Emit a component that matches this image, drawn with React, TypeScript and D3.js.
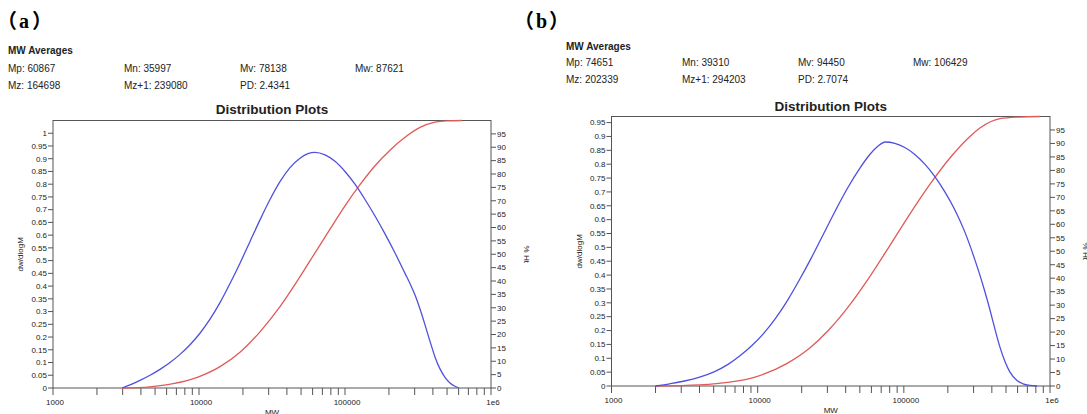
import React from "react";
import * as d3 from "d3";

// ---------- data ----------
const X_TICK_LABELS = ["1000", "10000", "100000", "1e6"];

const A_STATS_ROW1 = ["Mp: 60867", "Mn: 35997", "Mv: 78138", "Mw: 87621"];
const A_STATS_ROW2 = ["Mz: 164698", "Mz+1: 239080", "PD: 2.4341"];
const B_STATS_ROW1 = ["Mp: 74651", "Mn: 39310", "Mv: 94450", "Mw: 106429"];
const B_STATS_ROW2 = ["Mz: 202339", "Mz+1: 294203", "PD: 2.7074"];

const A_DIST_MW = [2970, 3369, 3944, 4617, 5407, 6331, 7413, 8679, 10158, 11893, 13925, 16305, 19092, 22358, 26170, 30643, 35872, 42007, 49180, 55800, 62315, 72946, 85420, 100000, 117060, 137090, 160530, 187930, 220070, 257630, 278800, 301700, 326400, 353200, 382200, 413400, 447400, 484000, 523800, 566700, 603700];
const A_DIST_DW = [0, 0.012, 0.03, 0.05, 0.073, 0.1, 0.132, 0.17, 0.215, 0.27, 0.335, 0.41, 0.49, 0.575, 0.66, 0.74, 0.81, 0.865, 0.902, 0.92, 0.925, 0.915, 0.89, 0.85, 0.8, 0.74, 0.675, 0.605, 0.53, 0.45, 0.41, 0.365, 0.31, 0.248, 0.183, 0.122, 0.075, 0.042, 0.02, 0.007, 0];
const A_CUM_MW = [2970, 4615, 6635, 9840, 13930, 19090, 26170, 35870, 49180, 62315, 78960, 100000, 126640, 160530, 203350, 257630, 326400, 413400, 499400, 633000];
const A_CUM_HT = [0, 0.45, 1.6, 4.1, 8.0, 13.4, 21, 30.4, 41.6, 50.5, 59.4, 68.1, 76, 83.1, 88.9, 93.7, 97.4, 99.35, 99.85, 100];

const B_DIST_MW = [2002, 2496, 3162, 4006, 5075, 6230, 7527, 9097, 10993, 13285, 16050, 19400, 23440, 28320, 34220, 41340, 49950, 58500, 66350, 74690, 86770, 101580, 118940, 139250, 163030, 190890, 223570, 261700, 306400, 331500, 358700, 388200, 420200, 454600, 491800, 532100, 594300, 653500, 729500, 814700];
const B_DIST_DW = [0, 0.008, 0.018, 0.032, 0.052, 0.077, 0.108, 0.145, 0.19, 0.245, 0.31, 0.385, 0.465, 0.55, 0.635, 0.715, 0.785, 0.835, 0.865, 0.88, 0.875, 0.86, 0.835, 0.8, 0.755, 0.7, 0.635, 0.555, 0.455, 0.4, 0.34, 0.275, 0.205, 0.14, 0.088, 0.05, 0.02, 0.008, 0.002, 0];
const B_CUM_MW = [2002, 4006, 6430, 9845, 15800, 22714, 30170, 42670, 58500, 80200, 109900, 150700, 206600, 283200, 331500, 454600, 618000, 855000];
const B_CUM_HT = [0, 0.4, 1.4, 3.5, 8.3, 14.1, 20.4, 30.1, 40.6, 52.1, 63.8, 74.8, 84.6, 92.6, 95.7, 99.2, 99.8, 100];

const A_LEFT_TICKS = d3.range(0, 21).map((i) => +(i * 0.05).toFixed(2));
const B_LEFT_TICKS = d3.range(0, 20).map((i) => +(i * 0.05).toFixed(2));
const RIGHT_TICKS = d3.range(0, 20).map((i) => i * 5);

const BLUE = "#5050e0";
const RED = "#e05a5a";
const AXIS = "#555";
const TEXT = "#222";
const SANS = "'Liberation Sans', Arial, sans-serif";

type PanelProps = {
  letter: string;
  labelX: number;
  ox: number;
  statsTop: number;
  rowGap: number;
  row1: string[];
  row2: string[];
  frame: { left: number; right: number; top: number; bottom: number };
  leftMax: number;
  leftTicks: number[];
  distMW: number[];
  distDW: number[];
  cumMW: number[];
  cumHT: number[];
  titleY: number;
};

function Panel(p: PanelProps) {
  const { frame } = p;
  const x = d3.scaleLog().domain([1000, 1e6]).range([frame.left, frame.right]);
  const yL = d3.scaleLinear().domain([0, p.leftMax]).range([frame.bottom, frame.top]);
  const yR = d3.scaleLinear().domain([0, 100]).range([frame.bottom, frame.top]);
  const distLine = d3
    .line<number>()
    .x((_, i) => x(p.distMW[i]))
    .y((d) => yL(d))
    .curve(d3.curveMonotoneX);
  const cumLine = d3
    .line<number>()
    .x((_, i) => x(p.cumMW[i]))
    .y((d) => yR(d))
    .curve(d3.curveMonotoneX);
  const xTicks = x.ticks(30).filter((t) => t >= 1000 && t <= 1e6);
  const majors = [1000, 10000, 100000, 1e6];
  const colX = [0, 116, 232, 347];
  const cx = (frame.left + frame.right) / 2;
  const cy = (frame.top + frame.bottom) / 2;
  const lx = p.labelX;
  return (
    <g>
      <text y={28} fontWeight="bold" fontSize={20} fill="#000">
        <tspan x={lx - 3} fontFamily="'Noto Sans CJK SC', sans-serif">（</tspan>
        <tspan x={lx + 19} fontFamily="'Liberation Serif', serif">{p.letter}</tspan>
        <tspan x={lx + 32} fontFamily="'Noto Sans CJK SC', sans-serif">）</tspan>
      </text>
      <text x={p.ox} y={p.statsTop} fontFamily={SANS} fontWeight="bold" fontSize={10} fill={TEXT}>
        MW Averages
      </text>
      {p.row1.map((s, i) => (
        <text key={"r1" + i} x={p.ox + colX[i]} y={p.statsTop + p.rowGap} fontFamily={SANS} fontSize={10} fill={TEXT}>
          {s}
        </text>
      ))}
      {p.row2.map((s, i) => (
        <text key={"r2" + i} x={p.ox + colX[i]} y={p.statsTop + 2 * p.rowGap} fontFamily={SANS} fontSize={10} fill={TEXT}>
          {s}
        </text>
      ))}
      <text x={cx} y={p.titleY} textAnchor="middle" fontFamily={SANS} fontWeight="bold" fontSize={13.5} fill={TEXT}>
        Distribution Plots
      </text>
      {/* frame */}
      <rect x={frame.left} y={frame.top} width={frame.right - frame.left} height={frame.bottom - frame.top} fill="none" stroke={AXIS} strokeWidth={1} />
      {/* left ticks */}
      {p.leftTicks.map((t) => (
        <g key={"l" + t}>
          <line x1={frame.left - 5} x2={frame.left} y1={yL(t)} y2={yL(t)} stroke={AXIS} />
          <text x={frame.left - 6} y={yL(t) + 2.8} textAnchor="end" fontFamily={SANS} fontSize={8} fill={TEXT}>
            {String(t)}
          </text>
        </g>
      ))}
      {/* right ticks */}
      {RIGHT_TICKS.map((t) => (
        <g key={"r" + t}>
          <line x1={frame.right} x2={frame.right + 5} y1={yR(t)} y2={yR(t)} stroke={AXIS} />
          <text x={frame.right + 6} y={yR(t) + 2.8} textAnchor="start" fontFamily={SANS} fontSize={8} fill={TEXT}>
            {String(t)}
          </text>
        </g>
      ))}
      {/* bottom ticks */}
      {xTicks.map((t) => (
        <line key={"b" + t} x1={x(t)} x2={x(t)} y1={frame.bottom} y2={frame.bottom + 7} stroke={AXIS} />
      ))}
      {majors.map((t, i) => (
        <text key={"bl" + t} x={x(t) + 2} y={frame.bottom + 17} textAnchor="middle" fontFamily={SANS} fontSize={8} fill={TEXT}>
          {X_TICK_LABELS[i]}
        </text>
      ))}
      <text x={cx} y={frame.bottom + 27} textAnchor="middle" fontFamily={SANS} fontSize={8} fill={TEXT}>
        MW
      </text>
      <text transform={`translate(${frame.left - 30},${cy}) rotate(-90)`} textAnchor="middle" fontFamily={SANS} fontSize={8} fill={TEXT}>
        dw/dlogM
      </text>
      <text transform={`translate(${frame.right + 33},${cy}) rotate(90)`} textAnchor="middle" fontFamily={SANS} fontSize={8} fill={TEXT}>
        % Ht
      </text>
      {/* curves */}
      <path d={cumLine(p.cumHT) || ""} fill="none" stroke={RED} strokeWidth={1.3} />
      <path d={distLine(p.distDW) || ""} fill="none" stroke={BLUE} strokeWidth={1.3} />
    </g>
  );
}

export default function App() {
  return (
    <svg width={1087} height={414} style={{ position: "absolute", left: 0, top: 0, background: "#fff" }}>
      <rect x={0} y={0} width={1087} height={414} fill="#fff" />
      <Panel
        letter="a"
        labelX={0}
        ox={8}
        statsTop={54}
        rowGap={17.5}
        row1={A_STATS_ROW1}
        row2={A_STATS_ROW2}
        frame={{ left: 53, right: 491, top: 120.5, bottom: 388 }}
        leftMax={1.05}
        leftTicks={A_LEFT_TICKS}
        distMW={A_DIST_MW}
        distDW={A_DIST_DW}
        cumMW={A_CUM_MW}
        cumHT={A_CUM_HT}
        titleY={114}
      />
      <Panel
        letter="b"
        labelX={517}
        ox={566}
        statsTop={49.5}
        rowGap={16.5}
        row1={B_STATS_ROW1}
        row2={B_STATS_ROW2}
        frame={{ left: 611.5, right: 1050, top: 116.5, bottom: 386 }}
        leftMax={0.972}
        leftTicks={B_LEFT_TICKS}
        distMW={B_DIST_MW}
        distDW={B_DIST_DW}
        cumMW={B_CUM_MW}
        cumHT={B_CUM_HT}
        titleY={110.5}
      />
    </svg>
  );
}
